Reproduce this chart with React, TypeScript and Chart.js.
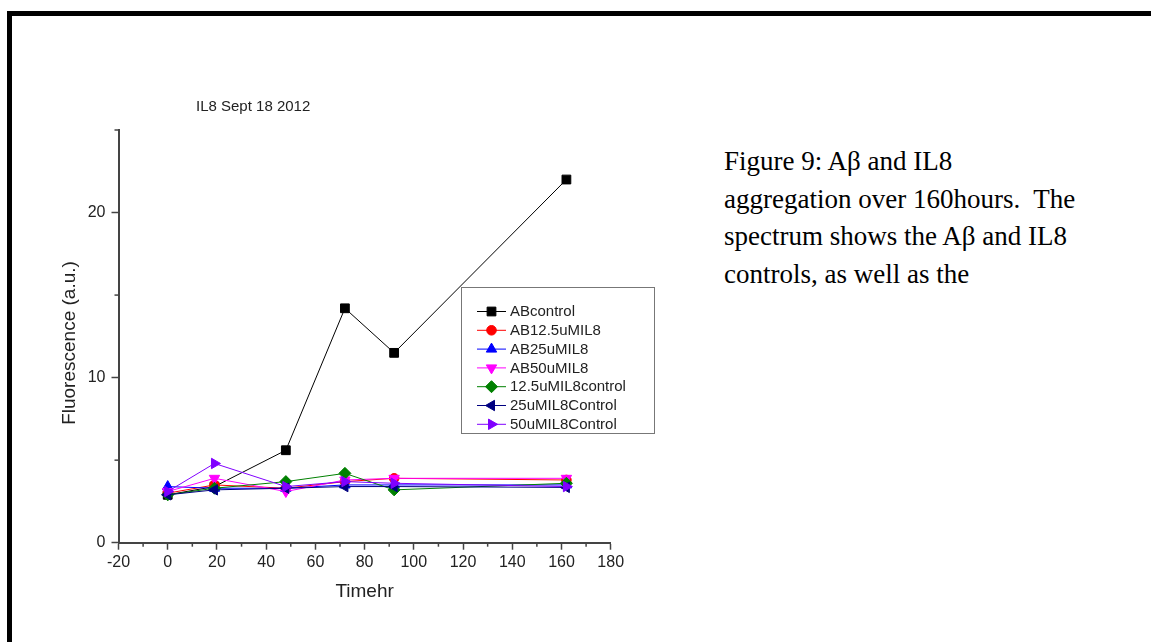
import React, { useEffect, useRef } from 'react';
import { Chart, registerables } from 'chart.js';
import { drawPoint } from 'chart.js/helpers';

Chart.register(...registerables);

// ---- data ----
const timeHr = [0, 19, 48, 72, 92, 162];
const abControl = [2.9, 3.4, 5.6, 14.2, 11.5, 22.0];
const ab12_5uMIL8 = [3.0, 3.5, 3.3, 3.7, 3.9, 3.8];
const ab25uMIL8 = [3.4, 3.3, 3.3, 3.5, 3.5, 3.5];
const ab50uMIL8 = [3.1, 3.9, 3.1, 3.8, 3.9, 3.9];
const c12_5uMIL8control = [2.9, 3.3, 3.7, 4.2, 3.2, 3.6];
const c25uMIL8Control = [2.9, 3.2, 3.3, 3.4, 3.4, 3.35];
const c50uMIL8Control = [3.1, 4.8, 3.4, 3.7, 3.6, 3.4];

const seriesNames = [
  'ABcontrol',
  'AB12.5uMIL8',
  'AB25uMIL8',
  'AB50uMIL8',
  '12.5uMIL8control',
  '25uMIL8Control',
  '50uMIL8Control',
];
const seriesValues = [abControl, ab12_5uMIL8, ab25uMIL8, ab50uMIL8, c12_5uMIL8control, c25uMIL8Control, c50uMIL8Control];

const xMajorTicks = [-20, 0, 20, 40, 60, 80, 100, 120, 140, 160, 180];
const xMinorTicks = [-10, 10, 30, 50, 70, 90, 110, 130, 150, 170];
const yMajorTicks = [0, 10, 20];
const yMinorTicks = [5, 15, 25];

const chartTitle = 'IL8 Sept 18 2012';
const xTitle = 'Timehr';
const yTitle = 'Fluorescence (a.u.)';
const captionLines = [
  'Figure 9: A\u03B2 and IL8',
  'aggregation over 160hours.  The',
  'spectrum shows the A\u03B2 and IL8',
  'controls, as well as the',
];

// ---- styles ----
const seriesStyles = [
  { color: '#000000', pointStyle: 'rect', rotation: 0, radius: 6.2 },
  { color: '#FF0000', pointStyle: 'circle', rotation: 0, radius: 4.8 },
  { color: '#0000FF', pointStyle: 'triangle', rotation: 0, radius: 6 },
  { color: '#FF00FF', pointStyle: 'triangle', rotation: 180, radius: 6 },
  { color: '#008000', pointStyle: 'rectRot', rotation: 0, radius: 6 },
  { color: '#000080', pointStyle: 'triangle', rotation: 270, radius: 6 },
  { color: '#8000FF', pointStyle: 'triangle', rotation: 90, radius: 6 },
];

const SANS = '"Liberation Sans", Arial, sans-serif';
const AXIS_COLOR = '#444';
const TEXT_COLOR = '#222';
const CANVAS_W = 680;
const CANVAS_H = 642;
const AREA = { left: 118.5, top: 130, right: 610.7, bottom: 542.7 };
const X_SCALE_H = 70;
const Y_TITLE_POS = { x: 70, y: 343 };
const LEGEND = { left: 461, top: 287, right: 654, bottom: 433, firstRow: 311.5, rowH: 18.8, lineX1: 477, lineX2: 506, markX: 491.5, textX: 510 };

const extrasPlugin = {
  id: 'extras',
  afterDraw(chart: any) {
    const { ctx, chartArea, scales } = chart;
    ctx.save();
    ctx.strokeStyle = AXIS_COLOR;
    ctx.lineWidth = 1.5;
    xMinorTicks.forEach((v) => {
      const px = scales.x.getPixelForValue(v);
      ctx.beginPath();
      ctx.moveTo(px, chartArea.bottom);
      ctx.lineTo(px, chartArea.bottom + 4);
      ctx.stroke();
    });
    yMinorTicks.forEach((v) => {
      const py = scales.y.getPixelForValue(v);
      ctx.beginPath();
      ctx.moveTo(chartArea.left, py);
      ctx.lineTo(chartArea.left - 4, py);
      ctx.stroke();
    });
    // y-axis title
    ctx.translate(Y_TITLE_POS.x, Y_TITLE_POS.y);
    ctx.rotate(-Math.PI / 2);
    ctx.fillStyle = TEXT_COLOR;
    ctx.font = `19px ${SANS}`;
    ctx.textAlign = 'center';
    ctx.textBaseline = 'middle';
    ctx.fillText(yTitle, 0, 0);
    ctx.restore();
  },
};

const boxLegendPlugin = {
  id: 'boxLegend',
  afterDatasetsDraw(chart: any) {
    const ctx = chart.ctx;
    ctx.save();
    ctx.fillStyle = '#fff';
    ctx.fillRect(LEGEND.left, LEGEND.top, LEGEND.right - LEGEND.left, LEGEND.bottom - LEGEND.top);
    ctx.strokeStyle = '#777';
    ctx.lineWidth = 1;
    ctx.strokeRect(LEGEND.left + 0.5, LEGEND.top + 0.5, LEGEND.right - LEGEND.left, LEGEND.bottom - LEGEND.top);
    ctx.font = `15px ${SANS}`;
    ctx.textBaseline = 'middle';
    ctx.textAlign = 'left';
    chart.data.datasets.forEach((ds: any, i: number) => {
      const y = LEGEND.firstRow + i * LEGEND.rowH;
      ctx.strokeStyle = ds.borderColor;
      ctx.lineWidth = 1;
      ctx.beginPath();
      ctx.moveTo(LEGEND.lineX1, y);
      ctx.lineTo(LEGEND.lineX2, y);
      ctx.stroke();
      ctx.fillStyle = ds.pointBackgroundColor;
      ctx.strokeStyle = ds.pointBorderColor;
      drawPoint(ctx, { pointStyle: ds.pointStyle, rotation: ds.pointRotation, radius: ds.pointRadius, borderWidth: 1 }, LEGEND.markX, y);
      ctx.fillStyle = TEXT_COLOR;
      ctx.fillText(ds.label, LEGEND.textX, y + 0.5);
    });
    ctx.restore();
  },
};

export default function App() {
  const ref = useRef<HTMLCanvasElement | null>(null);

  useEffect(() => {
    if (!ref.current) return;
    const datasets = seriesNames.map((name, i) => {
      const st = seriesStyles[i];
      return {
        label: name,
        data: timeHr.map((t, j) => ({ x: t, y: seriesValues[i][j] })),
        borderColor: st.color,
        backgroundColor: st.color,
        pointBackgroundColor: st.color,
        pointBorderColor: st.color,
        borderWidth: 1,
        pointBorderWidth: 1,
        pointStyle: st.pointStyle,
        pointRotation: st.rotation,
        pointRadius: st.radius,
        showLine: true,
        tension: 0,
        order: seriesNames.length - i,
      };
    });

    const chart = new Chart(ref.current, {
      type: 'line',
      data: { datasets },
      options: {
        animation: false,
        responsive: false,
        maintainAspectRatio: false,
        layout: {
          padding: {
            left: 0,
            top: AREA.top,
            right: CANVAS_W - AREA.right,
            bottom: CANVAS_H - AREA.bottom - X_SCALE_H,
          },
        },
        plugins: {
          legend: { display: false },
          tooltip: { enabled: false },
          title: { display: false },
        },
        scales: {
          x: {
            type: 'linear',
            min: -20,
            max: 180,
            afterBuildTicks: (s: any) => {
              s.ticks = xMajorTicks.map((v) => ({ value: v }));
            },
            afterFit: (s: any) => {
              s.height = X_SCALE_H;
            },
            grid: { display: true, drawOnChartArea: false, drawTicks: true, tickLength: 7, tickColor: AXIS_COLOR, tickWidth: 1.5 },
            border: { display: true, color: AXIS_COLOR, width: 2 },
            ticks: { font: { family: SANS, size: 16 }, color: TEXT_COLOR, padding: 3, maxRotation: 0, autoSkip: false },
            title: { display: true, text: xTitle, font: { family: SANS, size: 19 }, color: TEXT_COLOR, padding: { top: 0, bottom: 10 } },
          },
          y: {
            type: 'linear',
            min: 0,
            max: 25,
            afterBuildTicks: (s: any) => {
              s.ticks = yMajorTicks.map((v) => ({ value: v }));
            },
            afterFit: (s: any) => {
              s.width = AREA.left;
            },
            grid: { display: true, drawOnChartArea: false, drawTicks: true, tickLength: 7, tickColor: AXIS_COLOR, tickWidth: 1.5 },
            border: { display: true, color: AXIS_COLOR, width: 2 },
            ticks: { font: { family: SANS, size: 16 }, color: TEXT_COLOR, padding: 6 },
            title: { display: false },
          },
        },
      },
      plugins: [extrasPlugin, boxLegendPlugin],
    } as any);
    return () => chart.destroy();
  }, []);

  return (
    <div style={{ position: 'fixed', left: 0, top: 0, width: 1151, height: 642, overflow: 'hidden', background: '#fff' }}>
      <div
        style={{
          position: 'absolute',
          left: 7,
          top: 11,
          width: 1200,
          height: 700,
          border: '5px solid #000',
          boxSizing: 'border-box',
        }}
      />
      <canvas
        ref={ref}
        width={CANVAS_W}
        height={CANVAS_H}
        style={{ position: 'absolute', left: 0, top: 0, width: CANVAS_W, height: CANVAS_H }}
      />
      <div
        style={{
          position: 'absolute',
          left: 196,
          top: 97,
          fontFamily: SANS,
          fontSize: 15,
          lineHeight: '18px',
          color: TEXT_COLOR,
          whiteSpace: 'pre',
        }}
      >
        {chartTitle}
      </div>
      <div
        style={{
          position: 'absolute',
          left: 724,
          top: 143,
          fontFamily: '"Liberation Serif", "Times New Roman", serif',
          fontSize: 27,
          lineHeight: '37.5px',
          color: '#000',
          whiteSpace: 'pre',
        }}
      >
        {captionLines.map((l, i) => (
          <div key={i}>{l}</div>
        ))}
      </div>
    </div>
  );
}
